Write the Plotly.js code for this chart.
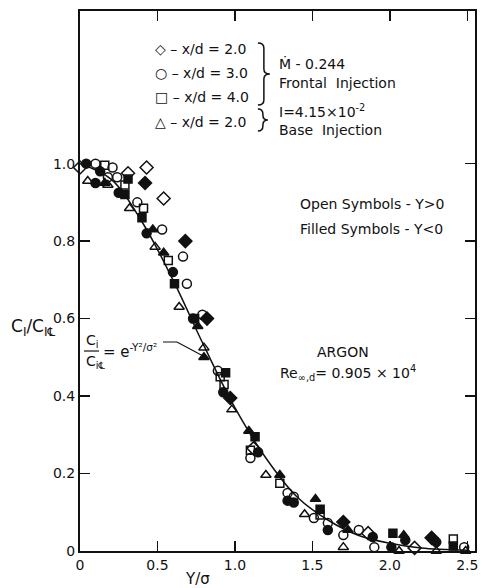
<!DOCTYPE html>
<html>
<head>
<meta charset="utf-8">
<script src="https://cdn.plot.ly/plotly-3.0.1.min.js"></script>
<style>html,body{margin:0;padding:0;background:#fff;}</style>
</head>
<body>
<div id="chart" style="width:481px;height:588px;"></div>
<script>
// ---- data ----
const xTickVals = [0, 0.5, 1.0, 1.5, 2.0, 2.5];
const xTickText = ['0', '0.5', '1.0', '1.5', '2.0', '2.5'];
const yTickVals = [0, 0.2, 0.4, 0.6, 0.8, 1.0];
const yTickText = ['0', '0.2', '0.4', '0.6', '0.8', '1.0'];

// x/d = 2.0 frontal (diamonds)
const diaOpenX = [0.00, 0.31, 0.43, 0.54, 1.12, 1.86, 2.16];
const diaOpenY = [0.99, 0.975, 0.99, 0.91, 0.265, 0.046, 0.008];
const diaFillX = [0.42, 0.68, 0.82, 0.97, 1.70, 2.27];
const diaFillY = [0.95, 0.80, 0.60, 0.395, 0.075, 0.034];
// x/d = 3.0 frontal (circles)
const cirOpenX = [0.10, 0.21, 0.18, 0.24, 0.37, 0.53, 0.665, 0.69, 0.79, 0.89, 1.10, 1.34, 1.38, 1.51, 1.60, 1.70, 1.80, 1.90, 2.48];
const cirOpenY = [1.00, 0.99, 0.965, 0.965, 0.90, 0.83, 0.76, 0.69, 0.61, 0.465, 0.24, 0.15, 0.14, 0.085, 0.072, 0.041, 0.054, 0.01, 0.01];
const cirFillX = [0.04, 0.13, 0.10, 0.25, 0.43, 0.60, 0.73, 0.925, 1.15, 1.34, 1.38, 1.60, 1.89, 2.01, 2.10, 2.30];
const cirFillY = [1.00, 0.98, 0.95, 0.925, 0.82, 0.72, 0.60, 0.41, 0.255, 0.13, 0.125, 0.054, 0.036, 0.01, 0.028, 0.023];
// x/d = 4.0 frontal (squares)
const sqOpenX = [0.16, 0.29, 0.41, 0.57, 0.905, 0.93, 1.10, 1.29, 1.55, 2.41];
const sqOpenY = [0.996, 0.945, 0.885, 0.75, 0.45, 0.43, 0.26, 0.175, 0.093, 0.031];
const sqFillX = [0.31, 0.29, 0.40, 0.61, 0.74, 0.94, 1.13, 1.55, 2.02, 2.41];
const sqFillY = [0.96, 0.92, 0.86, 0.69, 0.60, 0.46, 0.295, 0.108, 0.046, 0.013];
// x/d = 2.0 base injection (triangles)
const triOpenX = [0.05, 0.18, 0.32, 0.485, 0.64, 0.80, 0.98, 1.20, 1.45, 1.70, 2.06, 2.30, 2.49];
const triOpenY = [0.955, 0.945, 0.885, 0.785, 0.63, 0.525, 0.365, 0.196, 0.095, 0.01, 0.0, 0.0, 0.0];
const triFillX = [0.16, 0.47, 0.54, 0.76, 0.80, 1.09, 1.29, 1.52, 1.73, 2.09];
const triFillY = [0.95, 0.83, 0.77, 0.58, 0.50, 0.31, 0.196, 0.134, 0.054, 0.041];
// Gaussian curve as drawn
const curveX = [0, 0.2, 0.4, 0.6, 0.8, 1.0, 1.2, 1.4, 1.6, 1.8, 2.0, 2.2, 2.5];
const curveY = [1.0, 0.96, 0.85, 0.70, 0.53, 0.37, 0.24, 0.14, 0.08, 0.04, 0.02, 0.008, 0.002];

// ---- drawing ----
const FONT = 'DejaVu Sans, sans-serif';
function pts(x, y, sym, size) {
  return {
    x: x, y: y, type: 'scatter', mode: 'markers', cliponaxis: false, hoverinfo: 'skip',
    marker: {symbol: sym, size: size, color: '#111', line: {color: '#111', width: 1.5}}
  };
}
const traces = [
  {x: curveX, y: curveY, type: 'scatter', mode: 'lines', line: {color: '#111', width: 1.5, shape: 'spline'}, hoverinfo: 'skip'},
  pts(diaOpenX, diaOpenY, 'diamond-open', 10),
  pts(diaFillX, diaFillY, 'diamond', 10),
  pts(cirOpenX, cirOpenY, 'circle-open', 9),
  pts(cirFillX, cirFillY, 'circle', 9),
  pts(sqOpenX, sqOpenY, 'square-open', 8),
  pts(sqFillX, sqFillY, 'square', 8),
  pts(triOpenX, triOpenY, 'triangle-up-open', 9),
  pts(triFillX, triFillY, 'triangle-up', 9)
];

// pixel -> data helpers for decorations
const X0 = 80, PXU = 155, Y0 = 551, PYU = 387.4;
const dx = p => (p - X0) / PXU;
const dy = p => (Y0 - p) / PYU;

function brace(px0, pyTop, pyBot, w) {
  const xm = px0 + w * 0.5, xt = px0 + w, pm = (pyTop + pyBot) / 2, r = 5;
  const P = (a, b) => dx(a) + ',' + dy(b);
  return 'M' + P(px0, pyTop) + ' Q' + P(xm, pyTop) + ' ' + P(xm, pyTop + r) +
    ' L' + P(xm, pm - r) + ' Q' + P(xm, pm) + ' ' + P(xt, pm) +
    ' Q' + P(xm, pm) + ' ' + P(xm, pm + r) +
    ' L' + P(xm, pyBot - r) + ' Q' + P(xm, pyBot) + ' ' + P(px0, pyBot);
}

function txt(text, px, py, anchor, size) {
  return {text: text, x: dx(px), y: dy(py), xref: 'x', yref: 'y', showarrow: false,
          xanchor: anchor || 'left', yanchor: 'middle',
          font: {family: FONT, size: size || 14, color: '#111'}};
}

const annotations = [
  txt('◇ – x/d = 2.0', 153, 49),
  txt('○ – x/d = 3.0', 153, 73),
  txt('□ – x/d = 4.0', 153, 97),
  txt('△ – x/d = 2.0', 153, 122),
  txt('Ṁ - 0.244', 277, 63),
  txt('Frontal  Injection', 277, 83),
  txt('I=4.15×10<sup>-2</sup>', 277, 111),
  txt('Base  Injection', 277, 130),
  txt('Open Symbols - Y>0', 372, 204, 'center'),
  txt('Filled Symbols - Y<0', 372, 229, 'center'),
  txt('ARGON', 343, 352, 'center'),
  txt('Re<sub>∞,d</sub>= 0.905 × 10<sup>4</sup>', 348, 373, 'center'),
  txt('C<sub>i</sub>', 84, 341),
  txt('C<sub>i℄</sub>', 84, 362),
  txt('= e<sup>-Y²/σ²</sup>', 101, 351, 'left', 15),
  {text: 'C<sub>I</sub>/C<sub>I℄</sub>', xref: 'paper', yref: 'paper', x: (33 - X0) / 395, y: (Y0 - 327) / 540,
   showarrow: false, xanchor: 'center', yanchor: 'middle', font: {family: FONT, size: 17, color: '#111'}},
  {text: 'Y/σ', xref: 'paper', yref: 'paper', x: (197 - X0) / 395, y: (Y0 - 579) / 540,
   showarrow: false, xanchor: 'center', yanchor: 'middle', font: {family: FONT, size: 15, color: '#111'}}
];

const shapes = [
  {type: 'path', path: brace(258, 43, 105, 12), xref: 'x', yref: 'y', line: {color: '#111', width: 1.5}},
  {type: 'path', path: brace(258, 109, 131, 10), xref: 'x', yref: 'y', line: {color: '#111', width: 1.5}},
  {type: 'line', xref: 'x', yref: 'y', x0: dx(84), x1: dx(99), y0: dy(351), y1: dy(351), line: {color: '#111', width: 1.2}},
  {type: 'path', xref: 'x', yref: 'y', path: 'M' + dx(163) + ',' + dy(342) + ' L' + dx(177) + ',' + dy(342) + ' L' + dx(207) + ',' + dy(358),
   line: {color: '#111', width: 1.2}}
];

const axisCommon = {
  showgrid: false, zeroline: false, showline: true, linewidth: 2, linecolor: '#111',
  mirror: 'ticks', ticks: 'inside', ticklen: 10, tickwidth: 1.5, tickcolor: '#111',
  tickfont: {family: FONT, size: 14, color: '#111'}, fixedrange: true
};

const layout = {
  width: 481, height: 588,
  margin: {l: 80, r: 6, t: 11, b: 37},
  paper_bgcolor: '#fff', plot_bgcolor: '#fff',
  showlegend: false,
  xaxis: Object.assign({}, axisCommon, {range: [0, 2.55], tickvals: xTickVals, ticktext: xTickText}),
  yaxis: Object.assign({}, axisCommon, {range: [0, 1.394], tickvals: yTickVals, ticktext: yTickText}),
  annotations: annotations,
  shapes: shapes
};

Plotly.newPlot('chart', traces, layout, {staticPlot: true, displayModeBar: false});
</script>
</body>
</html>
